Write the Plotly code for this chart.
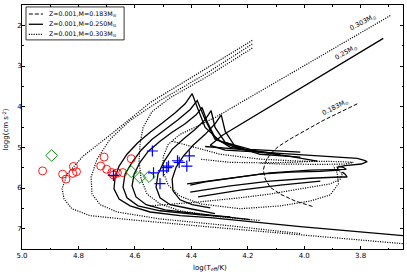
import plotly.graph_objects as go

# ---------------- 0.183 Msun track (dashed) ----------------
m183_x = [3.812, 3.933, 4.046, 4.092, 4.121, 4.138, 4.145, 4.138, 4.121, 4.085, 4.032, 3.968]
m183_y = [3.93, 4.34, 4.78, 4.98, 5.17, 5.37, 5.56, 5.78, 5.98, 6.15, 6.32, 6.46]

# ---------------- 0.250 Msun track (solid) ----------------
m250_pre_x = [3.720, 4.014, 4.291, 4.333, 4.280, 4.156, 4.014, 3.890, 3.812, 3.787, 3.777, 3.798,
              3.855, 3.883, 3.879, 3.943, 4.050, 4.156, 4.262, 4.351, 4.404]
m250_pre_y = [2.32, 3.54, 4.71, 4.95, 5.07, 5.12, 5.18, 5.24, 5.27, 5.32, 5.35, 5.41,
              5.45, 5.49, 5.56, 5.59, 5.61, 5.66, 5.76, 5.85, 5.93]
m250_c1_x = [4.014, 4.191, 4.298, 4.351, 4.376, 4.397, 4.422, 4.457, 4.504, 4.546, 4.589, 4.628,
             4.656, 4.670, 4.674, 4.656, 4.617, 4.546, 4.440, 4.333, 4.014, 3.649]
m250_c1_y = [5.12, 5.05, 4.85, 4.51, 4.07, 3.68, 3.93, 4.15, 4.41, 4.63, 4.88, 5.17,
             5.46, 5.73, 6.02, 6.27, 6.44, 6.59, 6.68, 6.73, 6.95, 7.17]
m250_c5_x = [4.227, 4.316, 4.351, 4.379, 4.404, 4.447, 4.493, 4.539, 4.578, 4.610, 4.635, 4.642,
             4.628, 4.589, 4.511, 4.369, 4.262]
m250_c5_y = [5.05, 4.80, 4.32, 3.85, 4.07, 4.32, 4.56, 4.80, 5.07, 5.37, 5.66, 5.98,
             6.24, 6.44, 6.56, 6.66, 6.71]
m250_c2_x = [4.156, 4.262, 4.316, 4.344, 4.362, 4.383, 4.422, 4.468, 4.511, 4.553, 4.582, 4.603,
             4.610, 4.596, 4.560, 4.493, 4.404, 4.316, 4.191]
m250_c2_y = [5.12, 5.00, 4.76, 4.37, 4.02, 4.20, 4.42, 4.63, 4.85, 5.10, 5.37, 5.66,
             5.95, 6.22, 6.41, 6.54, 6.61, 6.68, 6.78]
m250_c3_x = [4.085, 4.209, 4.280, 4.316, 4.330, 4.351, 4.387, 4.429, 4.468, 4.496, 4.518, 4.525,
             4.511, 4.475, 4.404, 4.316]
m250_c3_y = [5.17, 5.05, 4.88, 4.51, 4.10, 4.32, 4.56, 4.80, 5.05, 5.34, 5.66, 5.98,
             6.24, 6.41, 6.51, 6.63]
m250_c4_x = [4.014, 4.156, 4.245, 4.280, 4.294, 4.316, 4.351, 4.394, 4.429, 4.454, 4.468, 4.465,
             4.440, 4.397, 4.333]
m250_c4_y = [5.24, 5.17, 4.98, 4.61, 4.20, 4.42, 4.68, 4.95, 5.22, 5.49, 5.78, 6.07,
             6.29, 6.41, 6.49]
m250_hu_x = [4.351, 4.227, 4.156, 4.050, 3.954]
m250_hu_y = [4.98, 5.05, 5.12, 5.22, 5.34]
m250_hl1_x = [4.415, 4.262, 4.121, 3.979, 3.872, 3.851, 3.862, 3.879]
m250_hl1_y = [5.90, 5.76, 5.63, 5.56, 5.54, 5.54, 5.49, 5.46]
m250_hl2_x = [4.404, 4.262, 4.121, 3.979, 3.872, 3.848, 3.855, 3.865]
m250_hl2_y = [6.10, 5.95, 5.83, 5.76, 5.73, 5.73, 5.66, 5.61]
m250_hl3_x = [4.376, 4.227, 4.085, 3.943]
m250_hl3_y = [6.22, 6.05, 5.93, 5.83]

# ---------------- 0.303 Msun track (dotted) ----------------
m303_pre_x = [3.695, 4.014, 4.309, 4.387, 4.440, 4.482, 4.500, 4.500, 4.482, 4.440, 4.369, 4.227,
              4.085, 3.979, 3.908, 3.879, 3.883, 3.897]
m303_pre_y = [1.76, 3.05, 4.24, 4.51, 4.68, 4.93, 5.24, 5.59, 5.93, 6.20, 6.39, 6.51,
              6.44, 6.32, 6.17, 5.90, 5.63, 5.46]
m303_c1_x = [4.184, 4.369, 4.546, 4.663, 4.784, 4.840, 4.858, 4.851, 4.823, 4.759, 4.617, 4.348, 4.014, 3.649]
m303_c1_y = [2.37, 3.15, 3.90, 4.56, 5.22, 5.66, 6.02, 6.27, 6.51, 6.68, 6.78, 6.95, 7.15, 7.37]
m303_c2_x = [4.184, 4.351, 4.511, 4.617, 4.688, 4.734, 4.755, 4.752, 4.723, 4.663, 4.511, 4.262, 4.014]
m303_c2_y = [2.46, 3.20, 3.85, 4.34, 4.80, 5.29, 5.73, 6.15, 6.41, 6.59, 6.76, 6.93, 7.12]
m303_c3_x = [4.184, 4.351, 4.475, 4.539, 4.571, 4.582, 4.585, 4.578, 4.557, 4.511, 4.440, 4.298, 4.156]
m303_c3_y = [2.56, 3.29, 3.78, 4.12, 4.51, 4.93, 5.34, 5.78, 6.15, 6.39, 6.56, 6.71, 6.80]
m303_hu_x = [4.468, 4.298, 4.156, 4.014, 3.872, 3.826, 3.855, 3.943, 4.085, 4.156]
m303_hu_y = [4.85, 5.17, 5.29, 5.34, 5.35, 5.37, 5.41, 5.42, 5.41, 5.39]
m303_hu2_x = [3.954, 4.050, 4.156, 4.262, 4.369]
m303_hu2_y = [5.34, 5.37, 5.38, 5.37, 5.29]
m303_hl_x = [4.546, 4.369, 4.227, 4.121, 4.014, 3.908, 3.872, 3.865, 3.879]
m303_hl_y = [6.44, 6.34, 6.24, 6.15, 6.02, 5.90, 5.78, 5.66, 5.54]

# ---------------- observed stars ----------------
red_x = [4.927, 4.856, 4.844, 4.818, 4.820, 4.807, 4.721, 4.709, 4.700, 4.682, 4.676, 4.662, 4.643, 4.613]
red_y = [5.58, 5.66, 5.78, 5.47, 5.64, 5.60, 5.46, 5.24, 5.54, 5.62, 5.68, 5.63, 5.62, 5.28]
green_x = [4.895, 4.613, 4.582, 4.550]
green_y = [5.20, 5.60, 5.74, 5.72]
blue_x = [4.538, 4.534, 4.511, 4.499, 4.487, 4.481, 4.449, 4.443, 4.416, 4.407, 4.676]
blue_y = [5.09, 5.63, 5.89, 5.58, 5.50, 5.46, 5.33, 5.37, 5.46, 5.21, 5.69]

legend_names = ["Z=0.001,M=0.183M<sub>⊙</sub>", "Z=0.001,M=0.250M<sub>⊙</sub>",
                "Z=0.001,M=0.303M<sub>⊙</sub>"]
track_labels = ["0.183M<sub>⊙</sub>", "0.25M<sub>⊙</sub>", "0.303M<sub>⊙</sub>"]

DASH = "4px,2px"
DOT = "1.1px,1.3px"
styles = [(DASH, 1.0), ("solid", 1.3), (DOT, 1.2)]

fig = go.Figure()

def add(xs, ys, style):
    dash, width = style
    fig.add_trace(go.Scatter(
        x=xs, y=ys, mode="lines", showlegend=False,
        line=dict(color="black", width=width, dash=dash), hoverinfo="skip"))

add(m183_x, m183_y, styles[0])
for xs, ys in [(m250_pre_x, m250_pre_y), (m250_c1_x, m250_c1_y), (m250_c5_x, m250_c5_y),
               (m250_c2_x, m250_c2_y), (m250_c3_x, m250_c3_y), (m250_c4_x, m250_c4_y),
               (m250_hu_x, m250_hu_y), (m250_hl1_x, m250_hl1_y), (m250_hl2_x, m250_hl2_y),
               (m250_hl3_x, m250_hl3_y)]:
    add(xs, ys, styles[1])
for xs, ys in [(m303_pre_x, m303_pre_y), (m303_c1_x, m303_c1_y), (m303_c2_x, m303_c2_y),
               (m303_c3_x, m303_c3_y), (m303_hu_x, m303_hu_y), (m303_hu2_x, m303_hu2_y),
               (m303_hl_x, m303_hl_y)]:
    add(xs, ys, styles[2])

fig.add_trace(go.Scatter(x=red_x, y=red_y, mode="markers", showlegend=False, hoverinfo="skip",
                         marker=dict(symbol="circle-open", size=8, color="red", line=dict(width=0.9))))
fig.add_trace(go.Scatter(x=green_x, y=green_y, mode="markers", showlegend=False, hoverinfo="skip",
                         marker=dict(symbol="diamond-open", size=9, color="green", line=dict(width=0.9))))
fig.add_trace(go.Scatter(x=blue_x, y=blue_y, mode="markers", showlegend=False, hoverinfo="skip",
                         marker=dict(symbol="cross-thin", size=8, color="blue",
                                     line=dict(width=1.2, color="blue"))))

# track labels along the pre-WD lines
fig.add_annotation(x=3.890, y=4.00, text=track_labels[0], showarrow=False, textangle=-27,
                   font=dict(size=6.5))
fig.add_annotation(x=3.851, y=2.66, text=track_labels[1], showarrow=False, textangle=-30,
                   font=dict(size=6.5))
fig.add_annotation(x=3.791, y=1.93, text=track_labels[2], showarrow=False, textangle=-28,
                   font=dict(size=6.5))

# hand-drawn legend (paper coordinates)
fig.add_shape(type="rect", xref="paper", yref="paper", x0=0.0105, x1=0.268, y0=0.857, y1=0.992,
              line=dict(color="black", width=0.8), fillcolor="white", layer="above")
rows_y = [0.963, 0.921, 0.880]
for i in range(3):
    dash, width = styles[i]
    fig.add_shape(type="line", xref="paper", yref="paper", x0=0.018, x1=0.055,
                  y0=rows_y[i], y1=rows_y[i], line=dict(color="black", width=width, dash=dash),
                  layer="above")
    fig.add_annotation(xref="paper", yref="paper", x=0.066, y=rows_y[i], text=legend_names[i],
                       showarrow=False, xanchor="left", yanchor="middle", font=dict(size=6.3))

# axis titles
fig.add_annotation(xref="paper", yref="paper", x=0.493, y=-0.078, text="log(T<sub>eff</sub>/K)",
                   showarrow=False, xanchor="center", yanchor="middle", font=dict(size=7))
fig.add_annotation(xref="paper", yref="paper", x=-0.042, y=0.49, text="logg(cm s<sup>-2</sup>)",
                   showarrow=False, textangle=-90, xanchor="center", yanchor="middle",
                   font=dict(size=7))

axis_common = dict(showline=True, linecolor="black", linewidth=1, mirror="ticks",
                   ticks="inside", ticklen=3, tickwidth=1, tickcolor="black",
                   showgrid=False, zeroline=False, tickfont=dict(size=7), automargin=False)

fig.update_xaxes(range=[5.0, 3.65], dtick=0.2, tick0=5.0, tickformat=".1f",
                 minor=dict(ticks="inside", ticklen=1.5, dtick=0.1, tick0=5.0, tickcolor="black"),
                 ticklabelstandoff=0, **axis_common)
fig.update_yaxes(range=[7.5, 1.5], dtick=1, tick0=2,
                 minor=dict(ticks="inside", ticklen=1.5, dtick=0.5, tick0=2, tickcolor="black"),
                 ticklabelstandoff=-2, **axis_common)

fig.update_layout(
    width=407, height=275,
    margin=dict(l=22, r=4, t=5, b=26),
    paper_bgcolor="white", plot_bgcolor="white",
    font=dict(family="DejaVu Sans", color="black", size=7),
    showlegend=False,
)

fig.write_html("out.html", config={"displayModeBar": False},
               post_script="document.body.style.margin='0';")
